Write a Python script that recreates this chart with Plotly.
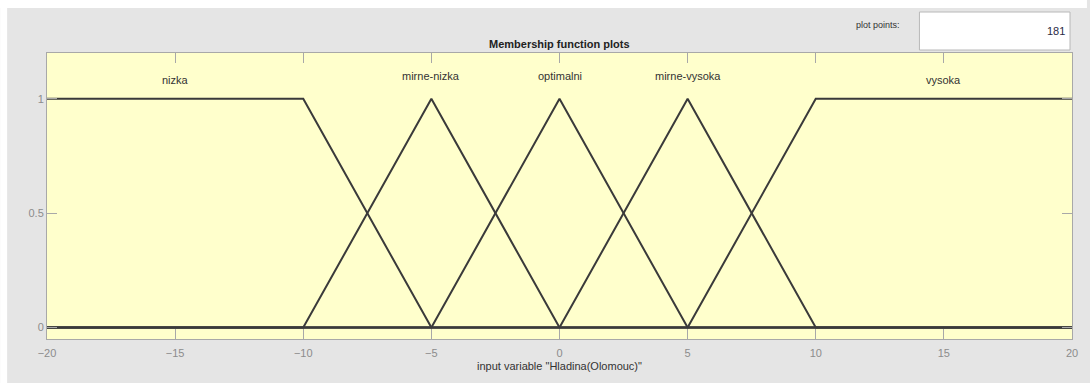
import plotly.graph_objects as go

# Membership functions of input variable "Hladina(Olomouc)" (breakpoints)
mf_names = ["nizka", "mirne-nizka", "optimalni", "mirne-vysoka", "vysoka"]
nizka_x = [-20, -10, -5, 20]
nizka_y = [1, 1, 0, 0]
mirne_nizka_x = [-20, -10, -5, 0, 20]
mirne_nizka_y = [0, 0, 1, 0, 0]
optimalni_x = [-20, -5, 0, 5, 20]
optimalni_y = [0, 0, 1, 0, 0]
mirne_vysoka_x = [-20, 0, 5, 10, 20]
mirne_vysoka_y = [0, 0, 1, 0, 0]
vysoka_x = [-20, 5, 10, 20]
vysoka_y = [0, 0, 1, 1]

# label positions (x at MF peak centre, y above the curves)
label_x = [-15, -5, 0, 5, 15]
label_y = [1.083, 1.10, 1.10, 1.10, 1.083]

x_ticks = [-20, -15, -10, -5, 0, 5, 10, 15, 20]
y_ticks = [0, 0.5, 1]
y_tick_text = ["0", "0.5", "1"]
plot_points = 181

W, H = 1090, 383
ML, MR, MT, MB = 47, 15, 53, 44
PW, PH = W - ML - MR, H - MT - MB


def px_x(px):
    return (px - ML) / PW


def px_y(py):
    return (H - MB - py) / PH


FONT = "Liberation Sans, Arial, sans-serif"
LINE = "#3a3a3a"

fig = go.Figure()
series = [
    (nizka_x, nizka_y),
    (mirne_nizka_x, mirne_nizka_y),
    (optimalni_x, optimalni_y),
    (mirne_vysoka_x, mirne_vysoka_y),
    (vysoka_x, vysoka_y),
]
for name, (xs, ys) in zip(mf_names, series):
    fig.add_trace(go.Scatter(x=xs, y=ys, mode="lines", name=name,
                             line=dict(color=LINE, width=2),
                             showlegend=False, hoverinfo="skip"))

annotations = []
for name, lx, ly in zip(mf_names, label_x, label_y):
    annotations.append(dict(x=lx, y=ly, xref="x", yref="y", text=name,
                            xanchor="center", yanchor="middle",
                            showarrow=False, font=dict(family=FONT, size=11, color="#333333")))

annotations += [
    dict(x=0.5, y=px_y(44), xref="paper", yref="paper", text="<b>Membership function plots</b>",
         xanchor="center", yanchor="middle",
         showarrow=False, font=dict(family=FONT, size=11, color="#222222")),
    dict(x=0.5, y=px_y(366), xref="paper", yref="paper", text='input variable "Hladina(Olomouc)"',
         xanchor="center", yanchor="middle",
         showarrow=False, font=dict(family=FONT, size=11, color="#333333")),
    dict(x=px_x(905), y=px_y(25), xref="paper", yref="paper", text="plot points:",
         xanchor="right", yanchor="middle",
         showarrow=False, font=dict(family=FONT, size=9, color="#333333")),
    dict(x=px_x(1070), y=px_y(31), xref="paper", yref="paper", text=str(plot_points),
         xanchor="right", yanchor="middle",
         showarrow=False, font=dict(family=FONT, size=11, color="#2a2a45")),
]

shapes = [
    # white margins around the grey panel
    dict(type="rect", xref="paper", yref="paper", x0=px_x(0), x1=px_x(W), y0=px_y(8), y1=px_y(0),
         fillcolor="white", line=dict(width=0), layer="below"),
    dict(type="rect", xref="paper", yref="paper", x0=px_x(0), x1=px_x(7), y0=px_y(H), y1=px_y(0),
         fillcolor="white", line=dict(width=0), layer="below"),
    # plot points edit box
    dict(type="rect", xref="paper", yref="paper", x0=px_x(922), x1=px_x(1073), y0=px_y(50), y1=px_y(12),
         fillcolor="white", line=dict(color="#b8b8b8", width=1)),
]

axis_common = dict(showline=True, linecolor="#a8a8a8", linewidth=1, mirror="ticks",
                   ticks="inside", ticklen=10, tickcolor="#a8a8a8", tickwidth=1,
                   showgrid=False, zeroline=False,
                   tickfont=dict(family=FONT, size=11, color="#8c8c8c"))

fig.update_layout(
    width=W, height=H,
    margin=dict(l=ML, r=MR, t=MT, b=MB, pad=0),
    paper_bgcolor="#e5e5e5",
    plot_bgcolor="#ffffcc",
    xaxis=dict(range=[-20, 20], tickvals=x_ticks, ticklabelstandoff=4, **axis_common),
    yaxis=dict(range=[-0.05, 1.2], tickvals=y_ticks, ticktext=y_tick_text, **axis_common),
    annotations=annotations,
    shapes=shapes,
)

fig.write_html("out.html")
